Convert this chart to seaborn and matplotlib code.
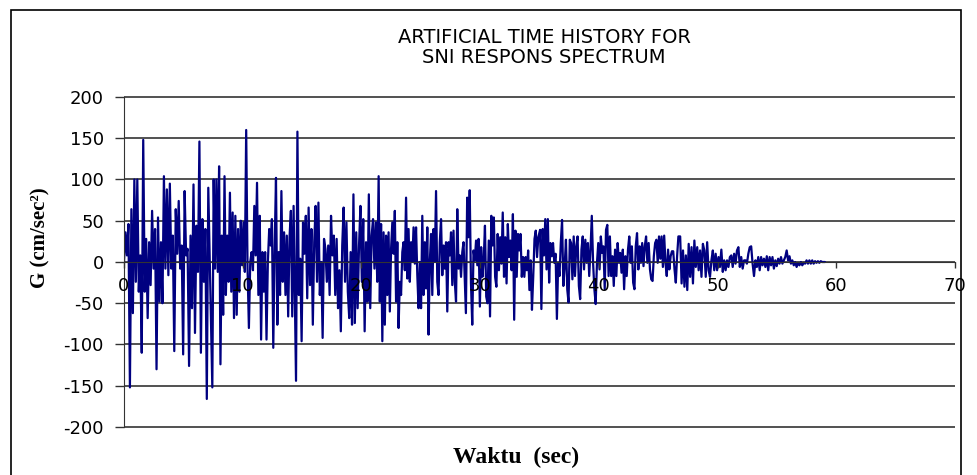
import numpy as np
import pandas as pd
import matplotlib
matplotlib.use("Agg")
import matplotlib.pyplot as plt
import seaborn as sns
from matplotlib.patches import Rectangle

# --- DATA (segment by segment) ---
TITLE = "ARTIFICIAL TIME HISTORY FOR\nSNI RESPONS SPECTRUM"
X_LABEL = "Waktu  (sec)"
Y_LABEL = "G (cm/sec²)"
X_TICKS = [0, 10, 20, 30, 40, 50, 60, 70]
Y_TICKS = [-200, -150, -100, -50, 0, 50, 100, 150, 200]

# start / end time (sec) of each read segment
SEG_TIMES = [(0.0, 7.1), (7.44, 14.4), (14.49, 21.45), (21.55, 28.6),
             (28.8, 34.9), (35.05, 46.7), (46.85, 59.05)]

seg1 = [0, 36, 8, 46, -152, 64, -62, 100, -24, 100, -36, 8, -110, 148, -36, 28, -68, 24,
        -28, 62, -8, 40, -130, 54, -48, 24, -50, 104, -8, 88, -16, 95, -8, 32, -108, 64,
        10, 74, -8, 20, -112, 86, 8, 16, -126, 32, -56, 94, -86, 44, -12, 146, -110, 52,
        -24, 40, -166, 90]
seg2 = [-152, 100, -8, 100, -12, 116, -124, 32, -64, 104, -40, 32, -24, 84, -36, 60, -68,
        56, -64, 40, -36, 50, -4, 48, -12, 160, -8, -80, 0, 12, -10, 68, 8, 96, -40, 56,
        -94, 12, -36, 12, -94, 0, 40, 20, 52, -104, 16, 102, -76, 12, -40, 86, -24, 36,
        -40, 32, -66, 30, 62, -66, 68, -56]
seg3 = [-144, 158, -40, 4, -96, 48, 10, 56, -44, 66, -28, 40, -76, 24, 68, -24, 72, -40,
        0, -92, 28, 16, -24, 20, -40, 56, 8, 32, -40, 28, -56, -10, -84, 20, 66, -24, 48,
        -36, -68, 12, -76, 82, -74, 36, -56, 20, 68, -24, 52, -84, 24, -48, 82, -56, 32,
        52, -8, 48, -24, 104]
seg4 = [-48, 46, -96, 36, -76, 32, -40, 36, -60, 16, 48, 10, 62, -48, 24, -80, -24, -40,
        12, 24, -10, 78, -20, 40, -24, 24, 0, 42, -2, 42, -16, -56, 0, -56, 56, -40, 24,
        -32, 42, -88, 0, 34, -40, 40, 0, 86, -24, -40, 24, 52, -16, 20, -8, 24, -60, 24,
        8, 36, -28, 38, -24, -48, 64, -8, 8, -18, 12, 24]
seg5 = [-62, 78, 30, 87, -26, -76, 14, 2, 26, -4, 28, -54, 18, -18, 2, 44, -42, -50, 26,
        -66, 56, 20, 54, -18, -30, 34, -10, 30, -2, 60, -18, 30, -26, 46, 6, 26, -10, 58,
        -70, 38, -18, 34, 14, 34, -18, 6, -18, 6, -10, 14, -34, 2, -58, -18, 28, 38, 6, 30]
seg6 = [39, -57, 40, 8, 52, -9, 52, -25, 23, 7, 23, -1, 10, -69, -1, -17, 23, 51, -29, -5,
        27, -33, -49, 27, 23, -21, 31, -17, 19, 31, -29, -45, 15, 31, -9, 27, -1, 23, -17,
        15, 56, -1, -33, -51, -1, 23, -9, 31, 11, 19, -33, 39, 45, -17, 31, -17, 7, -29,
        15, -17, 23, -1, 11, -13, 15, -33, 7, -17, 15, 31, -1, 19, -25, -33, 19, 35, -9,
        19, -1, 23, -5, 19, 31, -1, 23, -9, -21, -23, 7, 23, 27, -1, 31, 4, 31, -6, 32,
        -1, -17, 15, -9, 7, 13, 13, -9, -25, 7, 31]
seg7 = [31, -26, 14, -30, 8, -34, 22, -18, 18, -26, 26, -6, 18, -10, 14, -18, 22, 14, -18,
        24, -10, -18, 2, 14, -10, 10, -10, 6, -6, 15, -12, 2, -10, 2, -6, 6, 8, -6, 10, -2,
        14, 18, -6, 6, -8, 2, 2, -2, 10, 18, 19, -2, -17, 2, -6, 6, -10, 6, -4, 4, -6, 7,
        -10, 6, -4, 6, -8, 2, -5, 4, -2, 6, -2, 2, 6, 14, 2, 7, -2, 2, -4, 0, -6, -1, -4,
        0, -4, -1, -2, 2, -2, 2, -2, 2, -2, 1, -1, 1, -1, 1, 0, 0, 0]

SEGMENTS = [seg1, seg2, seg3, seg4, seg5, seg6, seg7]

frames = []
for (t0, t1), vals in zip(SEG_TIMES, SEGMENTS):
    frames.append(pd.DataFrame({"t": np.linspace(t0, t1, len(vals)), "g": vals}))
df = pd.concat(frames, ignore_index=True)

# --- STYLE ---
sns.set_style("white")
plt.rcParams["font.family"] = ["DejaVu Sans"]
plt.rcParams["axes.unicode_minus"] = False
plt.rcParams["text.color"] = "black"

W, H = 978, 475
fig = plt.figure(figsize=(W / 100, H / 100), dpi=100)
ax = fig.add_axes([124 / W, 1 - 427 / H, (955 - 124) / W, (427 - 97) / H])

sns.lineplot(data=df, x="t", y="g", ax=ax, color="#000080", lw=1.6,
             estimator=None, sort=False, zorder=2)

ax.set_xlim(0, 70)
ax.set_ylim(-200, 200)
ax.set_xticks(X_TICKS)
ax.set_yticks(Y_TICKS)
ax.set_xlabel("")
ax.set_ylabel("")

# horizontal gridlines, unclipped so the -200 / 200 lines show in full
ax.grid(False)
ax.hlines(Y_TICKS, 0, 70, colors="#222222", lw=1.1, zorder=1, clip_on=False)
ax.xaxis.set_zorder(3)

for s in ["top", "right"]:
    ax.spines[s].set_visible(False)
ax.spines["bottom"].set_position(("data", 0))
ax.spines["bottom"].set_color("#333333")
ax.spines["left"].set_color("#333333")

ax.tick_params(axis="x", bottom=True, direction="out", length=4, width=1,
               pad=7, labelsize=13, color="#333333", labelcolor="black")
ax.tick_params(axis="y", left=True, direction="out", length=6.5, width=1,
               pad=8, labelsize=13, color="#333333", labelcolor="black")

fig.text(544 / W, 1 - 47.5 / H, TITLE, ha="center", va="center",
         fontsize=14, linespacing=1.1)
fig.text(40 / W, 1 - 238 / H, Y_LABEL, rotation=90, ha="center", va="center",
         fontsize=15, fontweight="bold", family=["Liberation Serif", "DejaVu Serif"])
fig.text(516 / W, 1 - 457 / H, X_LABEL, ha="center", va="center",
         fontsize=17, fontweight="bold", family=["Liberation Serif", "DejaVu Serif"])

# chart-area border
fig.add_artist(Rectangle((11 / W, -0.05), (961 - 11) / W, 1.05 - 10 / H,
                         transform=fig.transFigure, fill=False, lw=1.2, ec="black"))

fig.savefig("out.png", dpi=100)
